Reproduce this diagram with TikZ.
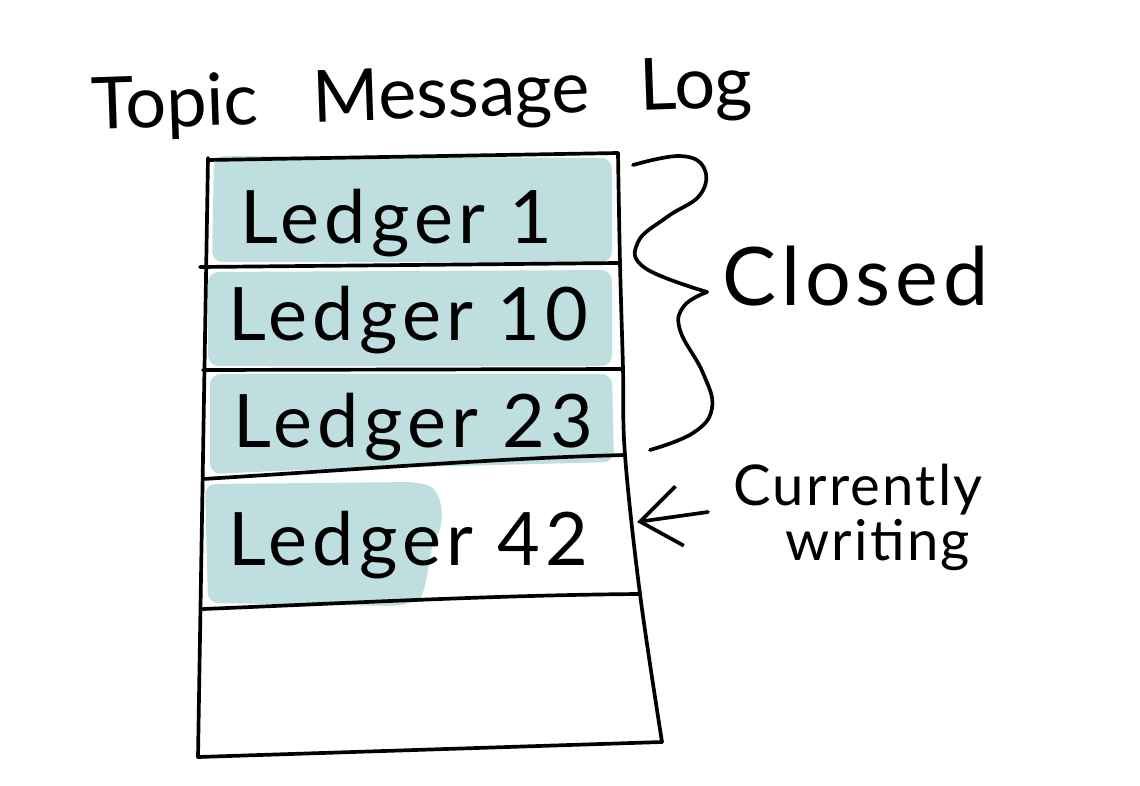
\documentclass[tikz,border=0pt]{standalone}
\usepackage{fontspec}
\setmainfont{Lato}
\usetikzlibrary{arrows.meta}
\definecolor{wash}{RGB}{191,222,224}

\begin{document}
\begin{tikzpicture}[x=0.02cm, y=-0.02cm,
    ink/.style={line width=2.1pt, line cap=round, line join=round},
    wetwash/.style={fill=wash, draw=none, rounded corners=6},
    rowtext/.style={anchor=base west, inner sep=0pt, font=\fontsize{42}{42}\selectfont\addfontfeatures{LetterSpace=7}},
    note/.style={anchor=base west, inner sep=0pt, font=\fontsize{32}{32}\selectfont\addfontfeatures{LetterSpace=4}},
    arrow/.style={ink, -{Straight Barb[length=8mm, width=12mm, line width=2.1pt]}}
]
\useasboundingbox (0,0) rectangle (1140,785);

% Farbflaechen (Aquarell)
\path[wetwash] (214,156) -- (612,158) -- (612,262) -- (212,262) -- cycle;
\path[wetwash] (208,272) -- (612,270) -- (612,366) -- (208,366) -- cycle;
\path[wetwash] (210,374) -- (612,374) -- (614,462) -- (300,470) -- (210,474) -- cycle;
\path[wetwash] (205,484) -- (418,482) .. controls (442,490) and (446,520) .. (432,545)
    -- (425,588) .. controls (420,600) .. (400,606) -- (208,603) -- cycle;

% Umriss des Logs
\draw[ink] plot[smooth, tension=0.6] coordinates {(618,153) (620,263) (623,369) (625,455) (640,594) (662,742)};
\draw[ink] (208,160) -- (618,153);
\draw[ink] (208,158) -- (198,757) -- (662,742);
% Trennlinien
\draw[ink] (200,267) -- (618,263);
\draw[ink] (203,370) -- (623,369);
\draw[ink] (203,479) .. controls (350,470) and (500,458) .. (625,455);
\draw[ink] (203,609) .. controls (350,603) and (500,595) .. (640,594);

% Eintraege
\node[rowtext] (l1)  at (240,243) {Ledger 1};
\node[rowtext] (l10) at (228,340) {Ledger 10};
\node[rowtext] (l23) at (233,447) {Ledger 23};
\node[rowtext] (l42) at (228,565) {Ledger 42};

% Titel
\node[anchor=base west, inner sep=0pt, rotate=2,
      font=\fontsize{41}{41}\selectfont] (title) at (92,130)
      {Topic\hspace{1.1cm}Message\hspace{1cm}Log};

% Klammer
\draw[ink] plot[smooth, tension=0.7] coordinates {(633,165) (680,156) (704,168) (700,195) (667,217) (638,242) (645,268) (707,292)};
\draw[ink] plot[smooth, tension=0.7] coordinates {(707,292) (684,306) (680,330) (703,373) (712,408) (693,433) (650,450)};
\node[anchor=base west, inner sep=0pt,
      font=\fontsize{46}{46}\selectfont\addfontfeatures{LetterSpace=6}] (closed) at (722,305) {Closed};

% aktuelles Ledger
\node[note] (curr) at (733,505) {Currently};
\node[note] (writ) at (785,560) {writing};
\coordinate (tail) at (708,512);
\coordinate (tip) at (637,522);
\draw[arrow] (tail) -- (tip);
\end{tikzpicture}
\end{document}
